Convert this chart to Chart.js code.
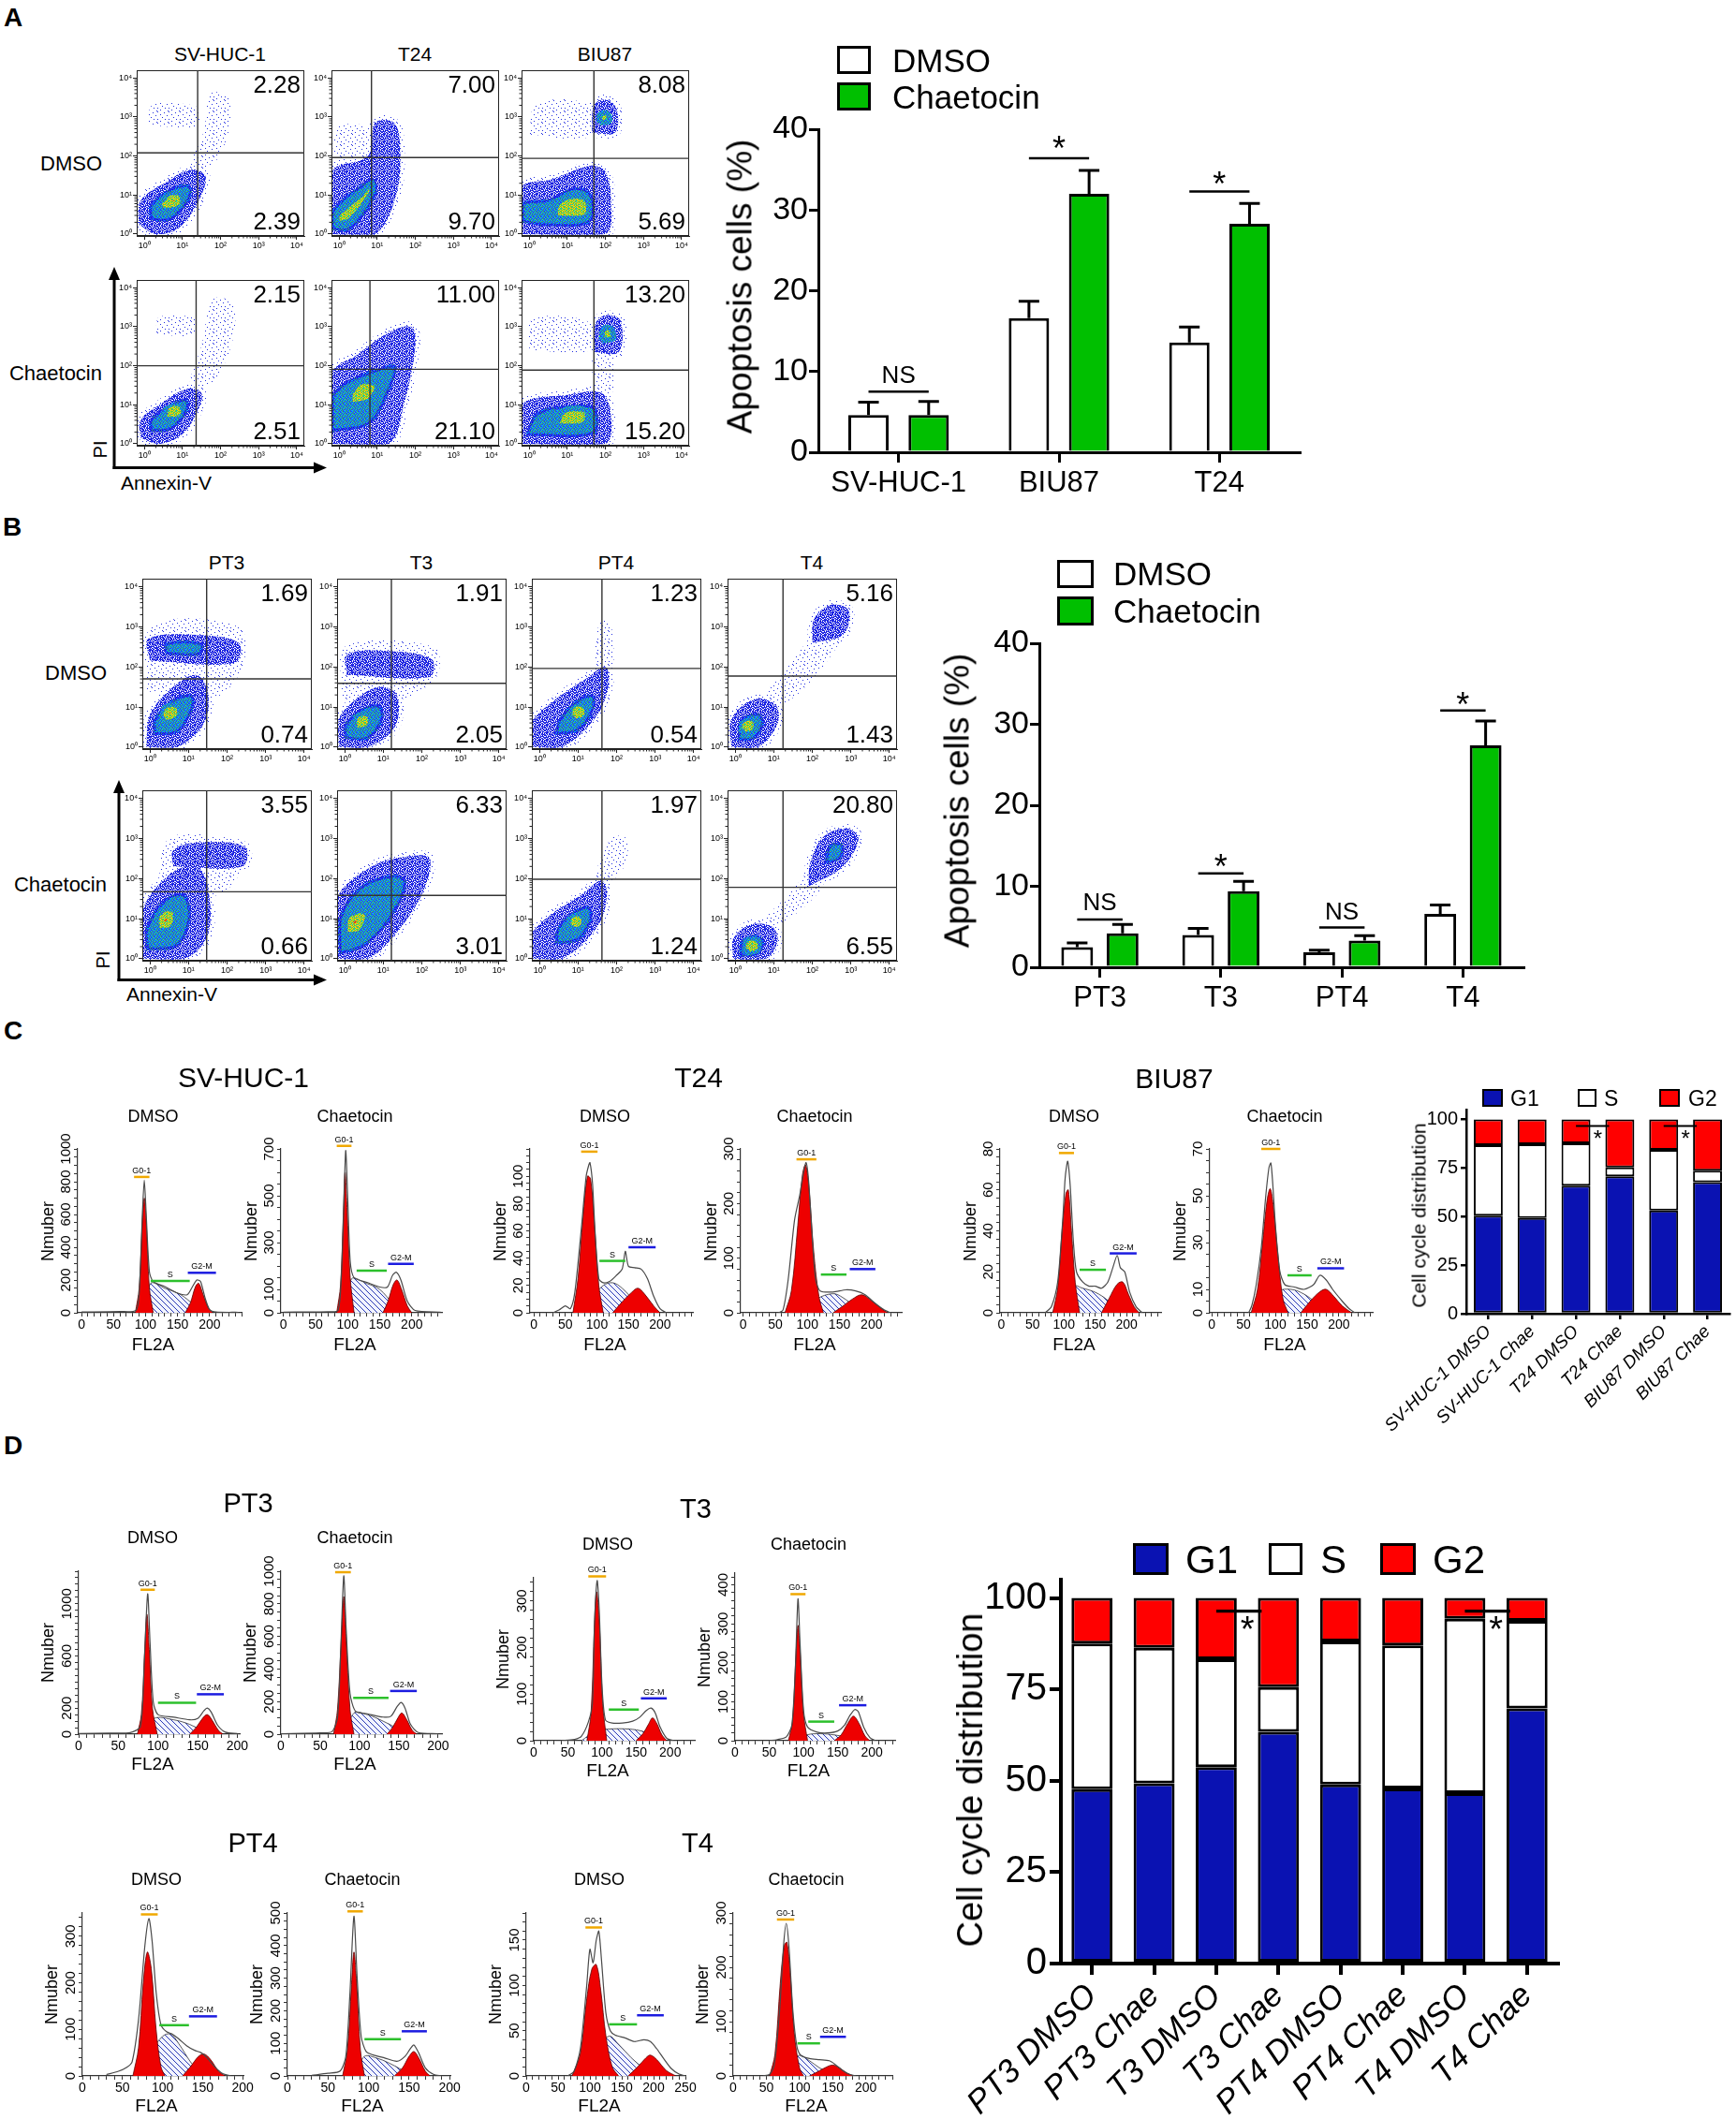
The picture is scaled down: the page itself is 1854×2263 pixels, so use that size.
<!DOCTYPE html>
<html>
<head>
<meta charset="utf-8">
<title>Chaetocin: apoptosis and cell cycle</title>
<script src="https://cdn.jsdelivr.net/npm/chart.js@4.4.1/dist/chart.umd.min.js"></script>
<style>
  html, body { margin: 0; padding: 0; background: #fff; }
  #page { position: relative; width: 1854px; height: 2263px; overflow: hidden;
          font-family: 'Liberation Sans', Arial, sans-serif; color: #000; }
  #page canvas { position: absolute; }
  .t { position: absolute; white-space: nowrap; line-height: 1; }
  .box { position: absolute; box-sizing: border-box; border: 3px solid #000; }
</style>
</head>
<body>
<div id="page"></div>
<script>
// ---------------- data: apoptosis bars (A, B) ----------------
const apoCatsA = ['SV-HUC-1', 'BIU87', 'T24'];
const apoDmsoA = [4.6, 16.6, 13.6];
const apoDmsoErrA = [1.6, 2.1, 1.9];
const apoChaeA = [4.6, 32.0, 28.3];
const apoChaeErrA = [1.7, 2.9, 2.5];
// [group, line value, label, label value]
const apoSigA = [[0, 7.5, 'NS', 9.4], [1, 36.4, '*', 38.2], [2, 32.3, '*', 33.9]];

const apoCatsB = ['PT3', 'T3', 'PT4', 'T4'];
const apoDmsoB = [2.5, 4.0, 1.85, 6.6];
const apoDmsoErrB = [0.5, 0.8, 0.25, 1.1];
const apoChaeB = [4.2, 9.4, 3.3, 27.4];
const apoChaeErrB = [1.1, 1.2, 0.6, 3.0];
const apoSigB = [[0, 5.9, 'NS', 7.9], [1, 11.6, '*', 13.1], [2, 4.9, 'NS', 6.7], [3, 31.7, '*', 33.1]];

// ---------------- data: cell cycle stacks (C, D) ----------------
const cycleCatsC = ['SV-HUC-1 DMSO', 'SV-HUC-1 Chae', 'T24 DMSO', 'T24 Chae', 'BIU87 DMSO', 'BIU87 Chae'];
const cycleG1C = [50.4, 49.3, 65.9, 70.7, 53.1, 67.7];
const cycleSC = [36.3, 37.9, 21.8, 4.5, 31.2, 5.9];
const cycleG2C = [13.3, 12.8, 12.3, 24.8, 15.7, 26.4];
const cycleSigC = [[2, 3, 96.6, 91.8], [4, 5, 96.6, 91.8]];

const cycleCatsD = ['PT3 DMSO', 'PT3 Chae', 'T3 DMSO', 'T3 Chae', 'PT4 DMSO', 'PT4 Chae', 'T4 DMSO', 'T4 Chae'];
const cycleG1D = [47.7, 49.3, 53.7, 63.4, 49.0, 47.9, 46.6, 69.8];
const cycleSD = [39.8, 37.1, 29.5, 12.2, 39.1, 39.1, 47.7, 23.9];
const cycleG2D = [12.5, 13.6, 16.8, 24.4, 11.9, 13.0, 5.7, 6.3];
const cycleSigD = [[2, 3, 96.4, 93.0], [6, 7, 96.4, 93.0]];

// ---------------- data: flow cytometry (log10 decades) ----------------
const flowTitlesA = ['SV-HUC-1', 'T24', 'BIU87'];
const flowUpperA = ['2.28', '7.00', '8.08', '2.15', '11.00', '13.20'];
const flowLowerA = ['2.39', '9.70', '5.69', '2.51', '21.10', '15.20'];
const flowGateA = [[1.40, 2.08], [0.85, 1.96], [1.70, 1.94], [1.36, 2.00], [0.81, 1.91], [1.70, 1.89]];
// [density level, outline]
const flowCloudsA = [
  [[0, [[0.1,2.8],[1.3,2.75],[1.45,3.2],[0.9,3.35],[0.2,3.3]]],
   [0, [[1.35,1.5],[1.9,1.9],[2.25,2.8],[2.2,3.5],[1.75,3.6],[1.55,2.6],[1.2,1.8]]],
   [1, [[-0.15,0.25],[0.3,0.0],[0.9,0.15],[1.45,0.9],[1.6,1.5],[1.2,1.65],[0.6,1.35],[-0.1,0.85]]],
   [2, [[0.15,0.35],[0.7,0.35],[1.2,0.9],[1.2,1.25],[0.75,1.2],[0.15,0.75]]],
   [3, [[0.45,0.6],[0.85,0.65],[1.0,0.95],[0.7,1.0],[0.4,0.8]]],
   [4, [[0.65,0.75],[0.85,0.8],[0.85,0.92],[0.68,0.9]]]],
  [[0, [[-0.15,1.5],[0.7,1.8],[0.8,2.7],[-0.1,2.7]]],
   [1, [[-0.2,0.0],[0.95,0.0],[1.5,1.0],[1.6,2.2],[1.45,2.85],[0.95,2.85],[0.75,2.0],[-0.2,1.6]]],
   [2, [[-0.2,0.1],[0.3,0.1],[0.95,0.95],[0.95,1.4],[0.7,1.35],[-0.2,0.6]]],
   [3, [[-0.05,0.25],[0.3,0.35],[0.85,1.05],[0.85,1.3],[0.55,1.0],[-0.05,0.5]]]],
  [[0, [[0.0,2.55],[1.6,2.5],[1.6,3.3],[0.2,3.35]]],
   [1, [[-0.2,0.0],[2.0,0.0],[2.15,0.8],[2.0,1.6],[1.6,1.75],[0.6,1.4],[-0.2,1.2]]],
   [2, [[-0.2,0.3],[0.5,0.2],[1.6,0.3],[1.65,1.0],[1.2,1.2],[0.5,0.9],[-0.2,0.8]]],
   [3, [[0.7,0.4],[1.5,0.45],[1.5,0.9],[1.0,0.95],[0.7,0.7]]],
   [1, [[1.65,2.6],[2.25,2.6],[2.3,3.2],[2.0,3.45],[1.7,3.3]]],
   [3, [[1.85,2.85],[2.1,2.9],[2.05,3.1],[1.85,3.05]]]],
  [[0, [[0.3,2.8],[1.3,2.8],[1.35,3.2],[0.4,3.25]]],
   [0, [[1.3,1.3],[1.9,1.7],[2.35,2.8],[2.3,3.6],[1.8,3.7],[1.5,2.5],[1.2,1.6]]],
   [1, [[-0.1,0.15],[0.4,0.0],[1.0,0.25],[1.4,0.85],[1.5,1.3],[1.1,1.4],[0.4,1.0],[-0.1,0.6]]],
   [2, [[0.15,0.3],[0.7,0.35],[1.15,0.85],[1.1,1.15],[0.65,1.0],[0.15,0.6]]],
   [3, [[0.5,0.6],[0.9,0.7],[0.95,0.95],[0.6,0.9]]],
   [4, [[0.7,0.75],[0.88,0.8],[0.85,0.9],[0.7,0.87]]]],
  [[1, [[-0.2,0.0],[1.3,0.0],[1.7,1.0],[2.0,2.5],[1.9,3.0],[1.3,2.85],[0.5,2.3],[-0.2,1.8]]],
   [2, [[-0.2,0.3],[0.8,0.5],[1.3,1.3],[1.5,2.0],[1.1,1.95],[0.2,1.6],[-0.2,1.2]]],
   [3, [[0.3,1.0],[0.8,1.1],[1.0,1.5],[0.6,1.6],[0.3,1.3]]]],
  [[0, [[0.0,2.4],[1.6,2.4],[1.6,3.1],[0.1,3.2]]],
   [0, [[1.7,1.2],[2.15,1.2],[2.15,2.4],[1.7,2.4]]],
   [1, [[-0.2,0.0],[2.0,0.0],[2.15,0.7],[1.9,1.3],[1.0,1.25],[-0.2,1.0]]],
   [2, [[-0.1,0.2],[1.7,0.25],[1.75,0.9],[1.2,1.0],[0.2,0.8]]],
   [3, [[0.7,0.45],[1.45,0.5],[1.5,0.85],[0.9,0.85]]],
   [1, [[1.7,2.35],[2.35,2.35],[2.4,3.15],[2.05,3.3],[1.75,3.1]]],
   [3, [[1.9,2.65],[2.2,2.7],[2.15,2.95],[1.95,2.95]]]]
];

const flowTitlesB = ['PT3', 'T3', 'PT4', 'T4'];
const flowUpperB = ['1.69', '1.91', '1.23', '5.16', '3.55', '6.33', '1.97', '20.80'];
const flowLowerB = ['0.74', '2.05', '0.54', '1.43', '0.66', '3.01', '1.24', '6.55'];
const flowGateB = [[1.47, 1.70], [1.21, 1.59], [1.62, 1.96], [1.24, 1.77],
                   [1.47, 1.67], [1.21, 1.58], [1.62, 1.98], [1.24, 1.78]];
const flowCloudsB = [
  [[0, [[-0.1,1.4],[1.6,1.2],[2.4,2.0],[2.3,3.0],[0.0,3.0]]],
   [1, [[0.0,2.15],[2.2,2.1],[2.3,2.6],[1.2,2.8],[-0.05,2.7]]],
   [2, [[0.4,2.3],[1.3,2.3],[1.35,2.6],[0.4,2.6]]],
   [1, [[-0.1,0.0],[0.7,0.0],[1.4,0.6],[1.5,1.4],[1.2,1.8],[0.6,1.5],[0.0,0.8]]],
   [2, [[0.1,0.3],[0.7,0.35],[1.1,0.9],[1.1,1.3],[0.6,1.2],[0.1,0.7]]],
   [3, [[0.3,0.6],[0.7,0.7],[0.75,1.0],[0.4,1.0]]],
   [4, [[0.42,0.75],[0.6,0.8],[0.62,0.92],[0.45,0.9]]]],
  [[0, [[-0.1,1.2],[1.5,1.2],[2.4,1.8],[2.3,2.5],[0.0,2.5]]],
   [1, [[0.05,1.8],[2.2,1.75],[2.25,2.2],[1.0,2.4],[0.05,2.3]]],
   [1, [[-0.15,0.0],[0.6,0.0],[1.3,0.5],[1.35,1.3],[0.9,1.5],[0.3,1.2],[-0.15,0.7]]],
   [2, [[0.0,0.2],[0.6,0.2],[1.0,0.7],[0.9,1.05],[0.4,0.95],[0.0,0.55]]],
   [3, [[0.25,0.4],[0.6,0.5],[0.65,0.8],[0.3,0.75]]],
   [4, [[0.38,0.55],[0.52,0.6],[0.52,0.7],[0.4,0.68]]]],
  [[0, [[1.4,1.6],[1.85,1.6],[1.85,3.1],[1.55,3.1]]],
   [1, [[-0.2,0.0],[0.6,0.0],[1.5,0.8],[1.8,1.6],[1.7,2.0],[1.2,1.7],[0.3,1.1],[-0.2,0.6]]],
   [2, [[0.4,0.3],[1.0,0.4],[1.4,0.9],[1.4,1.3],[1.0,1.2],[0.5,0.7]]],
   [3, [[0.8,0.65],[1.15,0.75],[1.2,1.0],[0.9,0.98]]],
   [4, [[0.92,0.78],[1.08,0.82],[1.08,0.93],[0.95,0.92]]]],
  [[0, [[0.8,0.9],[1.6,1.3],[2.5,2.3],[2.95,3.2],[2.6,3.5],[2.0,2.8],[1.2,1.8],[0.7,1.2]]],
   [1, [[2.0,2.6],[2.8,2.8],[2.95,3.4],[2.5,3.55],[2.05,3.2]]],
   [1, [[-0.1,0.0],[0.6,0.0],[1.1,0.6],[1.05,1.05],[0.5,1.2],[-0.1,0.7]]],
   [2, [[0.05,0.15],[0.5,0.2],[0.75,0.6],[0.6,0.85],[0.15,0.7]]],
   [3, [[0.15,0.35],[0.45,0.4],[0.5,0.65],[0.2,0.6]]],
   [4, [[0.25,0.45],[0.38,0.48],[0.4,0.58],[0.27,0.56]]]],
  [[0, [[0.2,1.8],[1.8,1.6],[2.5,2.6],[2.0,3.0],[0.5,3.0]]],
   [1, [[0.6,2.3],[2.4,2.3],[2.45,2.8],[1.2,2.9],[0.6,2.7]]],
   [1, [[-0.2,0.0],[0.9,0.0],[1.5,0.6],[1.5,1.8],[1.2,2.3],[0.5,2.1],[-0.2,1.2]]],
   [2, [[-0.1,0.2],[0.7,0.3],[1.05,1.0],[0.9,1.6],[0.4,1.5],[-0.1,0.8]]],
   [3, [[0.15,0.7],[0.55,0.75],[0.65,1.2],[0.3,1.2]]],
   [4, [[0.3,0.85],[0.5,0.9],[0.5,1.05],[0.32,1.02]]]],
  [[1, [[-0.2,0.0],[0.6,0.0],[1.3,0.6],[2.0,1.6],[2.2,2.5],[1.6,2.55],[0.7,2.3],[-0.2,1.5]]],
   [2, [[-0.15,0.1],[0.5,0.3],[1.2,1.0],[1.6,1.9],[1.3,2.1],[0.4,1.8],[-0.15,1.0]]],
   [3, [[0.0,0.6],[0.4,0.65],[0.6,1.1],[0.35,1.2],[0.05,0.95]]],
   [4, [[0.15,0.8],[0.35,0.85],[0.35,1.0],[0.18,0.98]]]],
  [[0, [[1.5,1.6],[2.2,2.3],[2.25,3.0],[1.85,3.0],[1.4,1.9]]],
   [1, [[-0.2,0.0],[0.6,0.0],[1.5,0.8],[1.75,1.6],[1.6,1.95],[1.1,1.6],[0.3,1.1],[-0.2,0.6]]],
   [2, [[0.4,0.35],[1.0,0.45],[1.35,0.95],[1.3,1.3],[0.9,1.2],[0.45,0.75]]],
   [3, [[0.75,0.75],[1.1,0.82],[1.1,1.05],[0.8,1.02]]],
   [4, [[0.88,0.86],[1.0,0.88],[1.0,0.98],[0.9,0.97]]]],
  [[0, [[0.9,0.7],[1.8,1.3],[2.3,1.9],[2.1,2.3],[1.3,1.5],[0.8,1.0]]],
   [1, [[1.9,1.8],[2.8,2.3],[3.2,3.0],[2.9,3.25],[2.3,3.05],[1.95,2.4]]],
   [2, [[2.3,2.35],[2.75,2.5],[2.8,2.85],[2.45,2.85]]],
   [1, [[-0.05,0.0],[0.8,0.0],[1.1,0.45],[0.95,0.8],[0.4,0.85],[-0.05,0.5]]],
   [2, [[0.1,0.05],[0.6,0.1],[0.75,0.45],[0.5,0.6],[0.15,0.45]]],
   [3, [[0.25,0.15],[0.55,0.2],[0.6,0.45],[0.3,0.45]]],
   [4, [[0.35,0.25],[0.5,0.27],[0.5,0.37],[0.37,0.36]]]]
];

// ---------------- data: DNA histograms (FL2A vs count) ----------------
const histTitlesC = ['SV-HUC-1', 'T24', 'BIU87'];
const histXRangeC = [[-6, 250], [-4, 247], [-6, 252], [-4, 247], [-2, 255], [-3, 253]];
const histYMaxC = [1000, 700, 120, 300, 80, 70];
const histYStepC = [50, 50, 5, 20, 4, 5];
const histYLabelsC = [[0,200,400,600,800,1000], [0,100,300,500,700], [0,20,40,60,80,100],
                      [0,100,200,300], [0,20,40,60,80], [0,10,30,50,70]];
const histEnvC = [
  [[0,5],[60,8],[85,15],[90,120],[95,600],[98,810],[101,600],[106,250],[112,190],[130,160],[150,120],[165,110],[172,150],[180,200],[186,190],[193,90],[200,20],[210,5],[245,3]],
  [[0,3],[70,5],[85,10],[90,150],[94,450],[97,693],[100,500],[104,220],[110,150],[130,130],[150,110],[162,110],[170,160],[176,173],[183,140],[193,50],[205,10],[245,3]],
  [[30,0],[40,2],[50,5],[58,3],[65,15],[75,60],[83,100],[87,108],[89,110],[93,95],[97,60],[103,25],[110,22],[120,23],[130,27],[140,32],[145,45],[150,34],[160,33],[170,32],[180,25],[190,12],[200,3],[210,0]],
  [[55,0],[62,5],[70,60],[80,170],[88,215],[93,250],[98,275],[102,240],[108,130],[113,60],[120,40],[140,38],[160,42],[175,40],[190,33],[205,18],[220,5],[230,0]],
  [[70,0],[80,3],[90,15],[98,45],[102,66],[106,74],[110,62],[115,35],[120,20],[130,15],[140,13],[150,13],[160,12],[170,15],[178,22],[185,28],[190,22],[197,20],[205,10],[215,3],[225,0]],
  [[58,0],[63,3],[70,12],[78,28],[85,50],[90,62],[93,64],[96,55],[100,38],[107,18],[115,12],[130,11],[145,10],[160,12],[170,16],[180,14],[190,10],[205,5],[215,2],[225,0]]
];
const histG1C = [
  [[84,0],[90,150],[95,560],[98,700],[101,560],[106,150],[112,0]],
  [[83,0],[89,120],[93,400],[96,600],[99,450],[104,150],[110,0]],
  [[62,0],[70,25],[78,70],[85,100],[90,98],[96,65],[103,20],[110,0]],
  [[65,0],[75,40],[85,160],[92,250],[97,271],[102,235],[110,110],[118,30],[125,0]],
  [[82,0],[90,12],[97,40],[103,58],[107,60],[112,40],[118,15],[125,0]],
  [[62,0],[72,10],[80,30],[87,48],[92,53],[97,45],[104,25],[112,6],[120,0]]
];
const histSC = [
  [[100,0],[108,180],[130,150],[155,110],[175,50],[190,0]],
  [[100,0],[106,145],[130,125],[150,100],[170,40],[185,0]],
  [[85,0],[95,12],[110,20],[125,22],[140,18],[160,8],[175,0]],
  [[100,0],[115,25],[140,35],[155,28],[175,10],[185,0]],
  [[100,0],[115,13],[130,12],[150,10],[170,6],[185,0]],
  [[95,0],[105,9],[125,10],[145,8],[165,4],[180,0]]
];
const histG2C = [
  [[162,0],[170,60],[178,160],[183,180],[190,110],[198,30],[205,0]],
  [[155,0],[163,50],[171,120],[177,140],[184,100],[193,30],[200,0]],
  [[125,0],[140,8],[155,15],[165,18],[175,14],[190,5],[200,0]],
  [[140,0],[155,12],[170,25],[185,33],[200,22],[215,8],[225,0]],
  [[160,0],[172,7],[185,14],[194,15],[203,9],[212,3],[220,0]],
  [[140,0],[155,5],[170,9],[180,10],[192,7],[205,3],[220,0]]
];
// gate bars: [G0-1 from, to, at], [S ...], [G2-M ...]
const histMarksC = [
  [[82,106,829],[108,169,194],[166,210,244]],
  [[83,106,713],[114,161,180],[163,203,209]],
  [[75,101,118],[104,145,38],[150,193,48]],
  [[83,114,281],[121,161,70],[166,206,80]],
  [[92,116,78],[125,167,21],[173,216,29]],
  [[78,108,70],[119,157,16],[166,208,19]]
];

const histTitlesD = ['PT3', 'T3', 'PT4', 'T4'];
const histXRangeD = [[0, 203], [0, 205], [0, 236], [0, 234], [0, 201], [0, 201], [0, 250], [0, 240]];
const histYMaxD = [1250, 1000, 350, 430, 350, 500, 180, 300];
const histYStepD = [50, 50, 20, 20, 20, 25, 10, 20];
const histYLabelsD = [[0,200,600,1000], [0,200,400,600,800,1000], [0,100,200,300], [0,100,200,300,400],
                      [0,100,200,300], [0,100,200,300,400,500], [0,50,100,150], [0,100,200,300]];
const histEnvD = [
  [[0,5],[40,8],[65,12],[78,60],[83,600],[87,1077],[90,700],[94,250],[100,150],[120,130],[140,110],[150,120],[158,180],[162,200],[167,170],[175,70],[185,15],[200,5]],
  [[0,3],[50,8],[65,15],[72,100],[76,500],[80,971],[83,650],[88,250],[95,140],[110,125],[130,105],[140,110],[148,170],[153,195],[158,160],[165,60],[175,10],[200,3]],
  [[40,0],[60,3],[70,10],[80,40],[86,80],[89,250],[93,344],[96,280],[100,120],[105,45],[115,38],[130,38],[145,42],[155,50],[165,65],[172,70],[178,60],[185,30],[195,5],[205,0]],
  [[50,0],[62,3],[75,10],[83,40],[88,180],[92,364],[95,250],[100,80],[106,35],[120,22],[135,20],[150,25],[160,40],[168,65],[175,80],[180,75],[188,35],[197,8],[205,0]],
  [[30,3],[45,10],[55,18],[62,30],[70,120],[78,280],[83,338],[87,290],[92,180],[98,110],[105,95],[112,90],[120,80],[130,65],[140,55],[148,50],[155,40],[165,20],[175,5],[185,0]],
  [[30,2],[50,8],[65,15],[72,60],[77,250],[82,490],[86,300],[91,120],[97,75],[105,65],[120,55],[135,45],[145,60],[152,85],[156,95],[162,70],[170,25],[180,5],[190,0]],
  [[65,0],[75,5],[85,30],[95,100],[100,140],[105,125],[110,150],[114,160],[118,130],[125,70],[132,50],[140,45],[155,42],[170,38],[185,40],[195,38],[205,30],[215,20],[228,8],[240,2],[250,0]],
  [[45,0],[55,3],[62,20],[70,120],[76,240],[80,281],[84,240],[90,120],[96,55],[102,38],[115,32],[130,30],[145,28],[155,20],[165,10],[175,3],[185,0]]
];
const histG1D = [
  [[74,0],[79,150],[83,600],[86,920],[89,650],[93,200],[99,0]],
  [[67,0],[72,150],[77,600],[80,845],[83,600],[88,150],[93,0]],
  [[78,0],[84,60],[89,250],[92,320],[96,260],[101,80],[107,0]],
  [[78,0],[84,50],[89,220],[92,296],[95,230],[100,70],[106,0]],
  [[63,0],[70,60],[76,200],[81,266],[86,230],[92,100],[98,20],[103,0]],
  [[68,0],[74,80],[79,280],[82,380],[85,300],[90,80],[95,0]],
  [[72,0],[85,25],[95,85],[103,118],[110,123],[117,95],[125,45],[135,10],[145,0]],
  [[55,0],[63,40],[71,170],[77,240],[81,246],[86,190],[92,80],[100,15],[106,0]]
];
const histSD = [
  [[88,0],[95,120],[120,110],[140,75],[155,30],[168,0]],
  [[83,0],[93,130],[110,120],[130,80],[150,30],[160,0]],
  [[70,0],[90,20],[110,25],[140,25],[160,20],[175,10],[185,0]],
  [[90,0],[105,15],[125,18],[145,15],[165,8],[180,0]],
  [[70,0],[85,50],[100,85],[110,90],[120,70],[135,30],[150,0]],
  [[82,0],[95,60],[110,55],[125,40],[140,20],[152,0]],
  [[100,0],[115,30],[130,44],[145,35],[165,20],[185,8],[200,0]],
  [[75,0],[90,25],[100,38],[115,28],[130,15],[145,5],[155,0]]
];
const histG2D = [
  [[140,0],[148,50],[156,120],[162,150],[168,110],[176,30],[182,0]],
  [[135,0],[142,40],[149,100],[154,130],[160,90],[167,25],[173,0]],
  [[150,0],[160,15],[168,35],[174,49],[180,38],[188,12],[195,0]],
  [[145,0],[155,15],[165,45],[173,63],[181,45],[190,12],[197,0]],
  [[125,0],[135,20],[145,42],[152,47],[160,35],[170,10],[178,0]],
  [[132,0],[142,25],[150,60],[156,75],[162,55],[170,15],[176,0]],
  [[160,0],[175,10],[188,20],[195,23],[205,18],[220,6],[235,0]],
  [[115,0],[128,8],[140,16],[150,20],[160,15],[172,5],[182,0]]
];
const histMarksD = [
  [[78,96,1108],[100,148,241],[149,183,306]],
  [[69,89,994],[92,137,222],[139,173,265]],
  [[80,106,353],[110,154,67],[157,195,91]],
  [[81,103,376],[107,145,49],[152,192,91]],
  [[73,94,347],[96,133,109],[133,168,128]],
  [[74,93,505],[95,140,113],[141,172,137]],
  [[93,119,164],[130,174,57],[174,216,67]],
  [[66,92,288],[97,131,60],[131,170,72]]
];

// ---------------- styling ----------------
const GREEN = '#00bf00';
const BLUE = '#0a12b2';
const RED = '#ff0000';
const SUP = ['\u2070', '\u00b9', '\u00b2', '\u00b3', '\u2074'];
// speckle tiles for the density levels of the dot plots ('.' = empty)
const DOT_MASKS = [
  ['a...........', '.......a....', '............', '...a........', '..........a.', '............',
   '.....a......', '............', 'a.......a...', '............', '...a........', '...........a'],
  ['abab.a.b', '.ab.ba.a', 'b.a.abab', 'ab.b.a.a', '.a.abab.', 'baba..ab', 'a.b.ab.a', '.aba.ba.'],
  ['cbgbcgbb', 'bgcbbcgc', 'gbbcgbcb', 'cgbgbcbg', 'bcgbcgbc', 'gbcbgbcg', 'bcbgcbgb', 'cgbcbgbc'],
  ['gyogcygg', 'ygcyogyg', 'ogyggyoy', 'gycogygc', 'yogygcoy', 'gyygoygg', 'cogygyog', 'ygygcgyo'],
  ['royrorro', 'orrorryr', 'rroryror', 'oryrrorr', 'rrorroyr', 'yrorrror', 'rorryrro', 'orrorrro']
];
const DOT_COLORS = [
  { a: '#2430e0' },
  { a: '#1212d0', b: '#2e3cf8' },
  { c: '#00b4ff', g: '#34cc50', b: '#2a3cff' },
  { y: '#e6e020', o: '#ffa000', g: '#50d040', c: '#00c0e0' },
  { r: '#ff1e1e', o: '#ff7800', y: '#ffd000' }
];

// ---------------- helpers ----------------
const page = document.getElementById('page');
const probe = document.createElement('canvas').getContext('2d');
function probeWidth(font) { probe.font = font; return probe.measureText('0123456789').width; }
const HAS_NARROW = probeWidth('20px "Liberation Sans Narrow", monospace') !== probeWidth('20px monospace');
const NARROW = HAS_NARROW ? "'Liberation Sans Narrow', 'Liberation Sans', sans-serif" : "'Liberation Sans', sans-serif";
const NSZ = s => HAS_NARROW ? s : Math.round(s * 0.84);
const SANS = "'Liberation Sans', Arial, sans-serif";

Chart.defaults.font.family = SANS;
Chart.defaults.color = '#000';
Chart.defaults.animation = false;
Chart.defaults.plugins.legend.display = false;
Chart.defaults.plugins.tooltip.enabled = false;

function text(str, x, y, size, o = {}) {
  const d = document.createElement('div');
  d.className = 't';
  d.textContent = str;
  d.style.left = x + 'px';
  d.style.top = y + 'px';
  d.style.fontSize = size + 'px';
  if (o.bold) d.style.fontWeight = 'bold';
  if (o.italic) d.style.fontStyle = 'italic';
  if (o.narrow) d.style.fontFamily = NARROW;
  const ax = o.align === 'left' ? '0' : o.align === 'right' ? '-100%' : '-50%';
  d.style.transform = 'translate(' + ax + ',-50%)' + (o.rot ? ' rotate(' + o.rot + 'deg)' : '');
  page.appendChild(d);
}
function box(x, y, w, h, fill, bw) {
  const d = document.createElement('div');
  d.className = 'box';
  Object.assign(d.style, { left: x + 'px', top: y + 'px', width: w + 'px', height: h + 'px', background: fill, borderWidth: (bw || 3) + 'px' });
  page.appendChild(d);
}
function canvasAt(left, top, width, height) {
  const c = document.createElement('canvas');
  c.width = width; c.height = height;
  c.style.left = left + 'px'; c.style.top = top + 'px';
  c.style.width = width + 'px'; c.style.height = height + 'px';
  page.appendChild(c);
  return c;
}
// scales keep exactly the size we give them, so chart areas land where the figure has them
const fixW = px => s => { s.width = px; s.paddingTop = 0; s.paddingBottom = 0; };
const fixH = px => s => { s.height = px; s.paddingLeft = 0; s.paddingRight = 0; };
const toXY = a => a.map(([x, y]) => ({ x, y }));

function dotPatterns(ctx) {
  return DOT_MASKS.map((rows, i) => {
    const t = document.createElement('canvas');
    t.width = rows[0].length; t.height = rows.length;
    const g = t.getContext('2d');
    rows.forEach((row, yy) => [...row].forEach((ch, xx) => {
      if (ch !== '.') { g.fillStyle = DOT_COLORS[i][ch]; g.fillRect(xx, yy, 1, 1); }
    }));
    return ctx.createPattern(t, 'repeat');
  });
}
function hatchPattern(ctx) {
  const t = document.createElement('canvas');
  t.width = t.height = 6;
  const g = t.getContext('2d');
  g.fillStyle = '#f2f4ff'; g.fillRect(0, 0, 6, 6);
  g.strokeStyle = '#2636b4'; g.lineWidth = 1;
  g.beginPath();
  g.moveTo(0, 0); g.lineTo(6, 6);
  g.moveTo(-1, 5); g.lineTo(1, 7);
  g.moveTo(5, -1); g.lineTo(7, 1);
  g.stroke();
  return ctx.createPattern(t, 'repeat');
}

// ---------------- flow cytometry dot plots ----------------
function flowPlot(L, T, W, H, clouds, gate, up, low) {
  const padL = 26, padB = 20, padT = 4, padR = 6;
  const cv = canvasAt(L - padL, T - padT, W + padL + padR, H + padT + padB);
  const ctx = cv.getContext('2d');
  const pats = dotPatterns(ctx);
  const ordered = clouds.slice().sort((a, b) => b[0] - a[0]);
  // each level gets a speckled fringe in the next sparser level, so edges fade like a dot cloud
  const datasets = ordered.map(([lv, pts]) => ({
    data: toXY(pts.concat([pts[0]])),
    fill: 'shape', backgroundColor: pats[lv],
    borderColor: lv > 0 ? pats[lv - 1] : 'rgba(0,0,0,0)',
    borderWidth: lv === 1 ? 10 : (lv > 1 ? 6 : 0),
    pointRadius: 0, tension: 0.35
  }));
  const decade = s => { s.ticks = [0, 1, 2, 3, 4].map(v => ({ value: v })); };
  const axis = extra => Object.assign({
    type: 'linear', afterBuildTicks: decade,
    grid: { drawOnChartArea: false, tickLength: 4, color: '#222' },
    border: { color: '#222' },
    ticks: { callback: v => '10' + SUP[v], font: { size: 9 }, padding: 1, autoSkip: false, maxRotation: 0 }
  }, extra);
  new Chart(ctx, {
    type: 'line',
    data: { datasets },
    options: {
      responsive: false,
      layout: { padding: { top: padT, right: padR, left: 0, bottom: 0 } },
      scales: {
        x: axis({ min: -0.2, max: 4.2, afterFit: fixH(padB) }),
        y: axis({ min: -0.05, max: 4.2, afterFit: fixW(padL) })
      }
    },
    plugins: [{
      id: 'flowDeco',
      afterDraw(ch) {
        const { ctx: c, chartArea: a, scales: { x, y } } = ch;
        c.save();
        c.strokeStyle = '#222'; c.lineWidth = 1;
        c.strokeRect(a.left + 0.5, a.top + 0.5, a.width - 1, a.height - 1);
        c.beginPath();
        for (let d = 0; d < 4; d++) for (let k = 2; k < 10; k++) {
          const v = d + Math.log10(k);
          const px = x.getPixelForValue(v), py = y.getPixelForValue(v);
          c.moveTo(px, a.bottom); c.lineTo(px, a.bottom + 2.5);
          c.moveTo(a.left, py); c.lineTo(a.left - 2.5, py);
        }
        c.stroke();
        c.strokeStyle = '#333'; c.lineWidth = 1.4;
        const gx = x.getPixelForValue(gate[0]), gy = y.getPixelForValue(gate[1]);
        c.beginPath();
        c.moveTo(gx, a.top); c.lineTo(gx, a.bottom);
        c.moveTo(a.left, gy); c.lineTo(a.right, gy);
        c.stroke();
        c.fillStyle = '#000'; c.font = '26px ' + SANS;
        c.textAlign = 'right'; c.textBaseline = 'middle';
        c.fillText(up, a.right - 4, a.top + 17);
        c.fillText(low, a.right - 4, a.bottom - 14);
        c.restore();
      }
    }]
  });
}

// ---------------- apoptosis bar charts ----------------
function apoPlot(L, T, R, B, cats, dm, dmE, ch, chE, sig, barPct, tickFont, catFont) {
  const padL = 75, padB = 62, padT = 20, padR = 30;
  const cv = canvasAt(L - padL, T - padT, R - L + padL + padR, B - T + padT + padB);
  const errs = [dmE, chE];
  const common = { borderColor: '#000', borderWidth: 3, borderSkipped: 'start', barPercentage: barPct, categoryPercentage: 0.75 };
  new Chart(cv, {
    type: 'bar',
    data: {
      labels: cats,
      datasets: [
        Object.assign({ label: 'DMSO', data: dm, backgroundColor: '#fff' }, common),
        Object.assign({ label: 'Chaetocin', data: ch, backgroundColor: GREEN }, common)
      ]
    },
    options: {
      responsive: false,
      layout: { padding: { top: padT, right: padR, left: 0, bottom: 0 } },
      scales: {
        x: {
          grid: { offset: false, drawOnChartArea: false, tickLength: 11, lineWidth: 3, color: '#000' },
          border: { width: 3, color: '#000' },
          ticks: { font: { size: catFont }, padding: 4, autoSkip: false, maxRotation: 0 },
          afterFit: fixH(padB)
        },
        y: {
          min: 0, max: 40,
          ticks: { stepSize: 10, font: { size: tickFont }, padding: 1 },
          grid: { drawOnChartArea: false, tickLength: 10, lineWidth: 3, color: '#000' },
          border: { width: 3, color: '#000' },
          afterFit: fixW(padL)
        }
      }
    },
    plugins: [{
      id: 'errSig',
      afterDatasetsDraw(c) {
        const ctx = c.ctx, y = c.scales.y;
        ctx.save();
        ctx.strokeStyle = '#000'; ctx.lineWidth = 3;
        [0, 1].forEach(di => {
          c.getDatasetMeta(di).data.forEach((bar, j) => {
            const v = c.data.datasets[di].data[j];
            const top = y.getPixelForValue(v + errs[di][j]);
            ctx.beginPath();
            ctx.moveTo(bar.x, bar.y); ctx.lineTo(bar.x, top);
            ctx.moveTo(bar.x - 11, top); ctx.lineTo(bar.x + 11, top);
            ctx.stroke();
          });
        });
        const m0 = c.getDatasetMeta(0).data, m1 = c.getDatasetMeta(1).data;
        ctx.lineWidth = 2.5; ctx.fillStyle = '#000'; ctx.textAlign = 'center'; ctx.textBaseline = 'middle';
        sig.forEach(([g, lv, lab, tv]) => {
          const py = y.getPixelForValue(lv);
          ctx.beginPath(); ctx.moveTo(m0[g].x, py); ctx.lineTo(m1[g].x, py); ctx.stroke();
          const mx = (m0[g].x + m1[g].x) / 2;
          if (lab === '*') {
            ctx.font = '36px ' + SANS;
            ctx.fillText('*', mx, y.getPixelForValue(tv) + 8);
          } else {
            ctx.font = '26px ' + SANS;
            ctx.fillText(lab, mx, y.getPixelForValue(tv));
          }
        });
        ctx.restore();
      }
    }]
  });
}

// ---------------- stacked cell-cycle charts ----------------
function cyclePlot(L, P100, R, B, cats, g1, s, g2, sig, o) {
  const T = B - (B - P100) * 1.05;
  const cv = canvasAt(L - o.padL, Math.round(T) - o.padT, R - L + o.padL + o.padR, Math.round(B - T) + o.padT + o.padB);
  const seg = { borderColor: '#000', borderWidth: o.bw, borderSkipped: false, barPercentage: 0.66, categoryPercentage: 1 };
  new Chart(cv, {
    type: 'bar',
    data: {
      labels: cats,
      datasets: [
        Object.assign({ label: 'G1', data: g1, backgroundColor: BLUE }, seg),
        Object.assign({ label: 'S', data: s, backgroundColor: '#fff' }, seg),
        Object.assign({ label: 'G2', data: g2, backgroundColor: RED }, seg)
      ]
    },
    options: {
      responsive: false,
      layout: { padding: { top: o.padT, right: o.padR, left: 0, bottom: 0 } },
      scales: {
        x: {
          stacked: true,
          grid: { offset: false, drawOnChartArea: false, tickLength: o.tick, lineWidth: o.aw, color: '#000' },
          border: { width: o.aw, color: '#000' },
          ticks: { font: { size: o.catFont, style: 'italic' }, minRotation: 45, maxRotation: 45, autoSkip: false, padding: 2 },
          afterFit: fixH(o.padB)
        },
        y: {
          stacked: true, min: 0, max: 105,
          afterBuildTicks: sc => { sc.ticks = [0, 25, 50, 75, 100].map(v => ({ value: v })); },
          ticks: { font: { size: o.tickFont }, padding: 3 },
          grid: { drawOnChartArea: false, tickLength: o.tick, lineWidth: o.aw, color: '#000' },
          border: { width: o.aw, color: '#000' },
          afterFit: fixW(o.padL)
        }
      }
    },
    plugins: [{
      id: 'cycleSig',
      afterDatasetsDraw(c) {
        const ctx = c.ctx, y = c.scales.y, m = c.getDatasetMeta(0).data;
        ctx.save();
        ctx.strokeStyle = '#000'; ctx.fillStyle = '#000'; ctx.lineWidth = o.aw * 0.8;
        ctx.textAlign = 'center'; ctx.textBaseline = 'middle';
        ctx.font = o.star + 'px ' + SANS;
        sig.forEach(([i, j, lv, sv]) => {
          const a = m[i], b = m[j];
          const py = y.getPixelForValue(lv);
          ctx.beginPath(); ctx.moveTo(a.x, py); ctx.lineTo(b.x - b.width / 2 + 4, py); ctx.stroke();
          const sx = (a.x + a.width / 2 + b.x - b.width / 2) / 2;
          ctx.fillText('*', sx, y.getPixelForValue(sv) + o.star * 0.22);
        });
        ctx.restore();
      }
    }]
  });
}

// ---------------- DNA content histograms ----------------
function histPlot(bx, xr, yMax, yStep, yLabels, env, g1, s, g2, marks, xLabMax) {
  const [L, R, T, B] = bx;
  const padL = 40, padB = 22, padT = 34, padR = 14;
  const cv = canvasAt(L - padL, T - padT, R - L + padL + padR, B - T + padT + padB);
  const ctx = cv.getContext('2d');
  const hatch = hatchPattern(ctx);
  const peak = { borderColor: '#5a0000', borderWidth: 0.8, backgroundColor: '#ee0000', fill: 'origin', pointRadius: 0, tension: 0.35 };
  new Chart(ctx, {
    type: 'line',
    data: {
      datasets: [
        { data: toXY(env), borderColor: '#4a4a4a', borderWidth: 1.2, pointRadius: 0, fill: false, tension: 0.25 },
        Object.assign({ data: toXY(g1) }, peak),
        Object.assign({ data: toXY(g2) }, peak),
        { data: toXY(s), borderColor: '#333', borderWidth: 0.8, backgroundColor: hatch, fill: 'origin', pointRadius: 0, tension: 0.35 }
      ]
    },
    options: {
      responsive: false,
      layout: { padding: { top: padT, right: padR, left: 0, bottom: 0 } },
      scales: {
        x: {
          type: 'linear', min: xr[0], max: xr[1],
          ticks: {
            stepSize: 10, includeBounds: false, autoSkip: false, maxRotation: 0, padding: 1,
            font: { family: NARROW, size: NSZ(17) },
            callback: v => (v % 50 === 0 && v >= 0 && v <= xLabMax) ? String(v) : ''
          },
          grid: { drawOnChartArea: false, tickLength: 4, color: '#333', lineWidth: 1 },
          border: { color: '#333', width: 1.2 },
          afterFit: fixH(padB)
        },
        y: {
          min: 0, max: yMax,
          ticks: { display: false, stepSize: yStep, includeBounds: false },
          grid: { drawOnChartArea: false, tickLength: 4, color: '#333', lineWidth: 1 },
          border: { color: '#333', width: 1.2 },
          afterFit: fixW(padL)
        }
      }
    },
    plugins: [{
      id: 'histDeco',
      afterDraw(ch) {
        const { ctx: c, chartArea: a, scales: { x, y } } = ch;
        c.save();
        c.fillStyle = '#000';
        c.font = '15px ' + SANS;
        c.textAlign = 'center'; c.textBaseline = 'bottom';
        yLabels.forEach(v => {
          c.save();
          c.translate(a.left - 5, y.getPixelForValue(v));
          c.rotate(-Math.PI / 2);
          c.fillText(String(v), 0, 0);
          c.restore();
        });
        const cols = ['#f0a800', '#2cc02c', '#1c1ce0'];
        const labs = ['G0-1', 'S', 'G2-M'];
        c.font = NSZ(11) + 'px ' + NARROW;
        c.lineWidth = 2.5;
        marks.forEach(([x1, x2, yv], i) => {
          const p1 = x.getPixelForValue(x1), p2 = x.getPixelForValue(x2), py = y.getPixelForValue(yv);
          c.strokeStyle = cols[i];
          c.beginPath(); c.moveTo(p1, py); c.lineTo(p2, py); c.stroke();
          c.fillText(labs[i], (p1 + p2) / 2, py - 2);
        });
        c.restore();
      }
    }]
  });
}

// ================= layout =================
// panel letters
text('A', 4, 19, 28, { bold: true, align: 'left' });
text('B', 3, 563, 28, { bold: true, align: 'left' });
text('C', 4, 1101, 28, { bold: true, align: 'left' });
text('D', 4, 1544, 28, { bold: true, align: 'left' });

// ---- A: dot plots ----
const colA = [146, 354, 557], rowA = [75, 299];
flowTitlesA.forEach((t, i) => text(t, colA[i] + 89, 57, 21));
text('DMSO', 109, 175, 22, { align: 'right' });
text('Chaetocin', 109, 399, 22, { align: 'right' });
for (let r = 0; r < 2; r++) for (let k = 0; k < 3; k++) {
  const i = r * 3 + k;
  flowPlot(colA[k], rowA[r], 179, 177, flowCloudsA[i], flowGateA[i], flowUpperA[i], flowLowerA[i]);
}
text('PI', 107, 480, 20, { rot: -90 });
text('Annexin-V', 129, 515, 21, { align: 'left' });

// ---- B: dot plots ----
const colB = [152, 360, 568, 777], rowB = [618, 844];
flowTitlesB.forEach((t, i) => text(t, colB[i] + 90, 600, 21));
text('DMSO', 114, 719, 22, { align: 'right' });
text('Chaetocin', 114, 945, 22, { align: 'right' });
for (let r = 0; r < 2; r++) for (let k = 0; k < 4; k++) {
  const i = r * 4 + k;
  flowPlot(colB[k], rowB[r], 181, 182, flowCloudsB[i], flowGateB[i], flowUpperB[i], flowLowerB[i]);
}
text('PI', 110, 1025, 20, { rot: -90 });
text('Annexin-V', 135, 1061, 21, { align: 'left' });

// axis arrows of the dot plot grids
(function arrows() {
  const NS = 'http://www.w3.org/2000/svg';
  const svg = document.createElementNS(NS, 'svg');
  svg.setAttribute('width', 1854); svg.setAttribute('height', 2263);
  svg.style.position = 'absolute'; svg.style.left = '0'; svg.style.top = '0';
  const add = (tag, attrs) => { const e = document.createElementNS(NS, tag); for (const k in attrs) e.setAttribute(k, attrs[k]); svg.appendChild(e); };
  [[122, 501, 287, 347], [127, 1048, 835, 347]].forEach(([x, y0, yTop, xEnd]) => {
    add('line', { x1: x, y1: y0, x2: x, y2: yTop + 10, stroke: '#000', 'stroke-width': 3 });
    add('polygon', { points: `${x - 6},${yTop + 12} ${x + 6},${yTop + 12} ${x},${yTop - 2}`, fill: '#000' });
    add('line', { x1: x - 1.5, y1: y0 - 1.5, x2: xEnd - 10, y2: y0 - 1.5, stroke: '#000', 'stroke-width': 3 });
    add('polygon', { points: `${xEnd - 12},${y0 - 7.5} ${xEnd - 12},${y0 + 4.5} ${xEnd + 2},${y0 - 1.5}`, fill: '#000' });
  });
  page.appendChild(svg);
})();

// ---- A/B: apoptosis bars ----
apoPlot(874, 138, 1388, 483, apoCatsA, apoDmsoA, apoDmsoErrA, apoChaeA, apoChaeErrA, apoSigA, 0.67, 34, 31);
box(894, 49, 36, 30, '#fff'); box(894, 88, 36, 30, GREEN);
text('DMSO', 953, 64, 35, { align: 'left' });
text('Chaetocin', 953, 103, 35, { align: 'left' });
text('Apoptosis cells (%)', 790, 306, 37, { rot: -90 });

apoPlot(1110, 687, 1627, 1033, apoCatsB, apoDmsoB, apoDmsoErrB, apoChaeB, apoChaeErrB, apoSigB, 0.7, 34, 31);
box(1129, 598, 39, 30, '#fff'); box(1129, 637, 39, 31, GREEN);
text('DMSO', 1189, 612, 35, { align: 'left' });
text('Chaetocin', 1189, 652, 35, { align: 'left' });
text('Apoptosis cells (%)', 1022, 855, 37, { rot: -90 });

// ---- C: histograms ----
const histBoxC = [[83, 258, 1227, 1402], [300, 472, 1227, 1402], [566, 740, 1227, 1402],
                  [791, 963, 1227, 1402], [1068, 1240, 1227, 1402], [1292, 1466, 1227, 1402]];
text(histTitlesC[0], 260, 1151, 30);
text(histTitlesC[1], 746, 1151, 30);
text(histTitlesC[2], 1254, 1152, 30);
histBoxC.forEach((bx, i) => {
  histPlot(bx, histXRangeC[i], histYMaxC[i], histYStepC[i], histYLabelsC[i],
           histEnvC[i], histG1C[i], histSC[i], histG2C[i], histMarksC[i], 200);
  const cx = (bx[0] + bx[1]) / 2 - 7;
  text(i % 2 ? 'Chaetocin' : 'DMSO', cx, 1192, 18);
  text('Nmuber', bx[0] - 32, (bx[2] + bx[3]) / 2, 18, { rot: -90 });
  text('FL2A', cx, bx[3] + 33, 19);
});

// ---- C: stacked cell cycle ----
cyclePlot(1566, 1195, 1847, 1403, cycleCatsC, cycleG1C, cycleSC, cycleG2C, cycleSigC,
          { padL: 95, padT: 8, padR: 6, padB: 130, bw: 2, aw: 2.5, tick: 6, tickFont: 20, catFont: 19, star: 24 });
box(1583, 1163, 22, 19, BLUE, 2); box(1685, 1163, 20, 19, '#fff', 2); box(1772, 1163, 22, 19, RED, 2);
text('G1', 1613, 1173, 23, { align: 'left' });
text('S', 1713, 1173, 23, { align: 'left' });
text('G2', 1803, 1173, 23, { align: 'left' });
text('Cell cycle distribution', 1515, 1298, 21, { rot: -90 });

// ---- D: histograms ----
const histBoxD = [[84, 256, 1678, 1852], [300, 472, 1678, 1852], [570, 742, 1685, 1859], [785, 956, 1680, 1859],
                  [88, 260, 2043, 2217], [307, 481, 2043, 2217], [562, 732, 2043, 2217], [783, 953, 2043, 2217]];
text(histTitlesD[0], 265, 1605, 29);
text(histTitlesD[1], 743, 1611, 29);
text(histTitlesD[2], 270, 1968, 29);
text(histTitlesD[3], 745, 1968, 29);
const subYD = [1642, 1642, 1649, 1649, 2007, 2007, 2007, 2007];
histBoxD.forEach((bx, i) => {
  histPlot(bx, histXRangeD[i], histYMaxD[i], histYStepD[i], histYLabelsD[i],
           histEnvD[i], histG1D[i], histSD[i], histG2D[i], histMarksD[i], i === 6 ? 250 : 200);
  const cx = (bx[0] + bx[1]) / 2 - 7;
  text(i % 2 ? 'Chaetocin' : 'DMSO', cx, subYD[i], 18);
  text('Nmuber', bx[0] - 33, (bx[2] + bx[3]) / 2, 18, { rot: -90 });
  text('FL2A', cx, bx[3] + 31, 19);
});

// ---- D: stacked cell cycle ----
cyclePlot(1133, 1706, 1664, 2096, cycleCatsD, cycleG1D, cycleSD, cycleG2D, cycleSigD,
          { padL: 115, padT: 8, padR: 10, padB: 167, bw: 3, aw: 4, tick: 12, tickFont: 40, catFont: 35, star: 38 });
box(1210, 1648, 38, 34, BLUE); box(1355, 1648, 36, 34, '#fff'); box(1474, 1648, 38, 34, RED);
text('G1', 1266, 1666, 42, { align: 'left' });
text('S', 1410, 1666, 42, { align: 'left' });
text('G2', 1530, 1666, 42, { align: 'left' });
text('Cell cycle distribution', 1036, 1901, 38, { rot: -90 });
</script>
</body>
</html>
